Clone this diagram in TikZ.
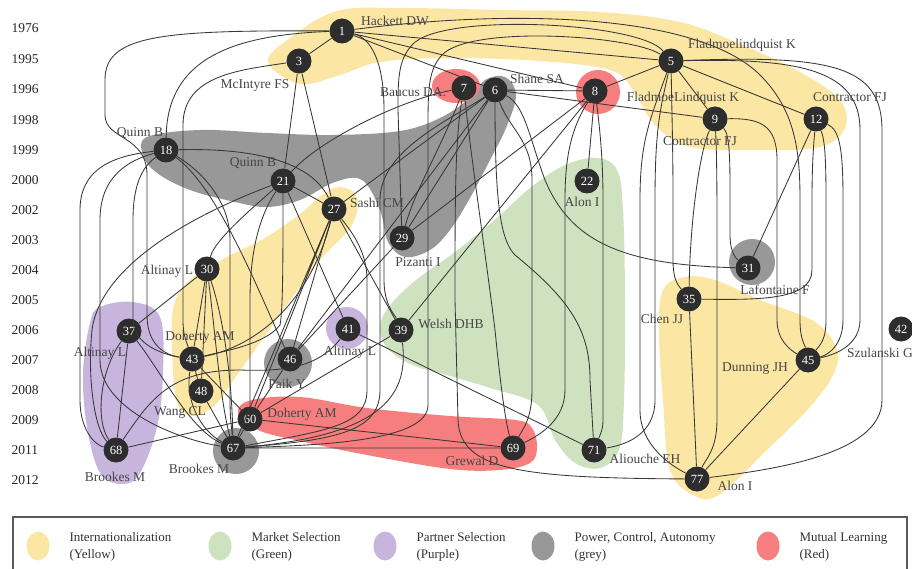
\documentclass[tikz,border=0pt]{standalone}
\usepackage{fontspec}
\setmainfont{Liberation Serif}
\definecolor{intl}{RGB}{251,230,164}
\definecolor{market}{RGB}{207,226,192}
\definecolor{partner}{RGB}{200,181,222}
\definecolor{power}{RGB}{152,152,152}
\definecolor{learning}{RGB}{247,126,126}
\definecolor{dotgray}{RGB}{45,45,45}
\definecolor{linegray}{RGB}{55,55,55}
\definecolor{namegray}{RGB}{70,70,70}
\tikzset{
  author/.style={circle,fill=dotgray,text=white,minimum size=25pt,inner sep=0pt,
    font=\fontsize{12.5}{14}\selectfont},
  authorname/.style={text=namegray,inner sep=1pt,font=\fontsize{13.5}{15}\selectfont},
  year/.style={anchor=west,text=black!85,font=\fontsize{13.5}{15}\selectfont},
  keytext/.style={anchor=west,align=left,text=black!80,font=\fontsize{13}{16.5}\selectfont},
  link/.style={draw=linegray,line width=0.85pt},
  blob/.style={smooth cycle,tension=0.6},
}
\begin{document}
\begin{tikzpicture}[x=1pt,y=-1pt]
\useasboundingbox (0,0) rectangle (912,569);
% themes
\fill[intl] plot[blob] coordinates {(268,62) (290,38) (337,11) (400,8) (500,10) (600,12)
  (680,22) (740,44) (800,72) (840,100) (845,128) (820,147) (760,150) (690,147)
  (655,125) (633,90) (610,70) (540,61) (450,58) (380,62) (340,75) (300,84)};
\fill[intl] plot[blob] coordinates {(340,187) (357,197) (352,225) (322,258) (292,298)
  (262,340) (237,375) (215,405) (192,416) (177,402) (172,350) (174,305) (190,280)
  (225,258) (265,238) (300,214) (322,195)};
\fill[intl] plot[blob] coordinates {(663,290) (685,277) (715,280) (760,300) (815,322)
  (837,350) (833,375) (810,407) (767,450) (720,494) (695,496) (670,470) (663,400) (659,333)};
\fill[market] plot[blob] coordinates {(382,318) (410,285) (455,252) (498,217) (530,188)
  (565,165) (597,158) (617,170) (623,210) (625,300) (624,400) (619,450) (600,468)
  (575,463) (555,440) (538,405) (490,388) (450,376) (410,364) (385,345)};
\fill[partner] plot[blob] coordinates {(100,307) (133,302) (160,317) (163,373) (157,427)
  (140,473) (122,484) (100,473) (87,427) (83,373) (90,323)};
\fill[partner] (347,328) circle (21);
\fill[power] plot[blob] coordinates {(147,137) (200,130) (267,133) (333,135) (400,131)
  (440,118) (470,98) (485,80) (505,77) (516,95) (506,128) (490,160) (470,198)
  (450,230) (430,250) (405,257) (388,242) (380,210) (362,180) (335,182) (300,200)
  (267,207) (235,202) (190,190) (157,173) (143,155)};
\fill[power] (752,262) circle (23);
\fill[power] (288,363) circle (24);
\fill[power] (236,451) circle (23);
\fill[learning] (456,86) ellipse [x radius=24, y radius=17];
\fill[learning] (598,92) circle (22);
\fill[learning] plot[blob] coordinates {(238,412) (252,400) (300,397) (367,408) (450,416)
  (515,420) (532,428) (537,448) (530,463) (500,470) (450,469) (367,455) (300,441) (258,430)};
% years
\foreach \y/\yr in {28/1976,59/1995,89/1996,120/1998,150/1999,180/2000,210/2002,
  240/2003,270/2004,300/2005,330/2006,360/2007,390/2008,420/2009,450/2011,480/2012}
  \node[year] (y\yr) at (8,\y) {\yr};
% authors
\node[author] (n1) at (342,31) {1};
\node[author] (n3) at (299,61) {3};
\node[author] (n5) at (671,61) {5};
\node[author] (n6) at (495,90) {6};
\node[author] (n7) at (464,88) {7};
\node[author] (n8) at (595,91) {8};
\node[author] (n9) at (715,119) {9};
\node[author] (n12) at (816,119) {12};
\node[author] (n18) at (166,150) {18};
\node[author] (n21) at (283,181) {21};
\node[author] (n22) at (587,181) {22};
\node[author] (n27) at (334,209) {27};
\node[author] (n29) at (402,238) {29};
\node[author] (n30) at (207,269) {30};
\node[author] (n31) at (748,268) {31};
\node[author] (n35) at (689,299) {35};
\node[author] (n37) at (129,331) {37};
\node[author] (n39) at (401,330) {39};
\node[author] (n41) at (348,329) {41};
\node[author] (n42) at (901,329) {42};
\node[author] (n43) at (192,359) {43};
\node[author] (n45) at (808,360) {45};
\node[author] (n46) at (290,359) {46};
\node[author] (n48) at (201,391) {48};
\node[author] (n60) at (250,419) {60};
\node[author] (n67) at (233,448) {67};
\node[author] (n68) at (116,450) {68};
\node[author] (n69) at (513,448) {69};
\node[author] (n71) at (594,450) {71};
\node[author] (n77) at (697,479) {77};
% links from the top
\draw[link] (n1) -- (n3) (n1) -- (n5) (n1) -- (n8) (n1) -- (n6);
\draw[link] (n1) .. controls (230,35) and (167,60) .. (n18);
\draw[link] (n1) .. controls (160,30) and (105,35) .. (105,80) -- (105,115)
  .. controls (105,140) and (147,135) .. (147,175) -- (147,315)
  .. controls (147,345) and (165,355) .. (n43);
\draw[link] (n1) .. controls (370,38) and (384,60) .. (384,110) -- (384,280)
  .. controls (384,305) and (395,315) .. (n39);
\draw[link] (n1) .. controls (520,8) and (700,15) .. (760,75)
  .. controls (795,110) and (800,150) .. (800,200) -- (800,320)
  .. controls (800,340) and (805,345) .. (n45);
\draw[link] (n3) .. controls (240,70) and (183,75) .. (183,125) -- (183,320)
  .. controls (183,335) and (186,340) .. (n43);
\draw[link] (n3) -- (n21) (n3) -- (n27);
\draw[link] (n5) -- (n8) (n5) -- (n9) (n5) -- (n12);
\draw[link] (n5) .. controls (640,22) and (440,12) .. (412,45)
  .. controls (398,60) and (398,80) .. (398,110) -- (n29);
\draw[link] (n5) .. controls (630,35) and (470,25) .. (442,55)
  .. controls (428,70) and (428,90) .. (428,130) -- (428,405)
  .. controls (428,440) and (330,445) .. (n67);
\draw[link] (n5) .. controls (650,120) and (640,140) .. (640,200) -- (640,410)
  .. controls (640,445) and (670,465) .. (n77);
\draw[link] (n5) .. controls (660,110) and (655,130) .. (655,200) -- (655,400)
  .. controls (655,435) and (625,445) .. (n71);
\draw[link] (n5) .. controls (672,120) and (673,150) .. (673,200) -- (673,260)
  .. controls (673,280) and (678,285) .. (n35);
\draw[link] (n5) .. controls (800,58) and (860,70) .. (860,130) -- (860,320)
  .. controls (860,345) and (835,355) .. (n45);
\draw[link] (n5) .. controls (830,55) and (882,65) .. (882,130) -- (882,400)
  .. controls (882,455) and (770,470) .. (n77);
% 1996
\draw[link] (n6) -- (n8) (n6) -- (n9) (n6) -- (n29) (n6) -- (n46) (n6) -- (n27);
\draw[link] (n6) .. controls (525,105) and (530,140) .. (545,180)
  .. controls (570,240) and (620,265) .. (n31);
\draw[link] (n6) .. controls (510,130) and (532,140) .. (532,180) -- (532,390)
  .. controls (532,420) and (522,430) .. (n69);
\draw[link] (n6) .. controls (495,200) and (500,240) .. (515,255)
  .. controls (570,300) and (590,330) .. (590,380) -- (n71);
\draw[link] (n7) .. controls (470,150) and (485,250) .. (495,330)
  .. controls (500,380) and (505,420) .. (n69);
\draw[link] (n7) .. controls (440,150) and (415,190) .. (n29);
\draw[link] (n7) .. controls (400,100) and (320,140) .. (n21);
\draw[link] (n7) .. controls (455,140) and (455,200) .. (455,300) -- (458,420)
  .. controls (460,470) and (520,478) .. (n77);
\draw[link] (n8) -- (n22) (n8) -- (n29) (n8) -- (n39);
\draw[link] (n8) .. controls (570,130) and (565,160) .. (565,200) -- (565,390)
  .. controls (565,420) and (540,435) .. (n69);
\draw[link] (n8) .. controls (600,130) and (603,160) .. (603,200) -- (603,420)
  .. controls (603,430) and (600,435) .. (n71);
% 1998
\draw[link] (n9) .. controls (700,150) and (690,220) .. (n35);
\draw[link] (n9) .. controls (730,135) and (730,160) .. (730,200) -- (730,235)
  .. controls (730,255) and (738,260) .. (n31);
\draw[link] (n9) .. controls (717,160) and (717,200) .. (717,250) -- (717,420)
  .. controls (717,450) and (705,460) .. (n77);
\draw[link] (n9) .. controls (760,118) and (777,125) .. (777,160) -- (777,320)
  .. controls (777,340) and (790,350) .. (n45);
\draw[link] (n12) -- (n31);
\draw[link] (n12) .. controls (825,140) and (826,160) .. (826,200) -- (826,320)
  .. controls (826,340) and (820,345) .. (n45);
\draw[link] (n12) .. controls (840,130) and (843,150) .. (843,200) -- (843,320)
  .. controls (843,345) and (828,355) .. (n45);
\draw[link] (n35) .. controls (760,300) and (812,300) .. (812,270) -- (812,200)
  .. controls (812,160) and (814,140) .. (n12);
\draw[link] (n35) -- (n77) (n45) -- (n77);
% 1999 and 2000
\draw[link] (n18) .. controls (250,148) and (310,160) .. (n27);
\draw[link] (n18) .. controls (120,155) and (80,165) .. (80,210) -- (80,400)
  .. controls (80,430) and (95,445) .. (n68);
\draw[link] (n18) .. controls (130,160) and (100,175) .. (100,220) -- (100,360)
  .. controls (100,410) and (180,440) .. (n67);
\draw[link] (n18) .. controls (145,165) and (133,180) .. (133,220) -- (133,320)
  .. controls (133,345) and (165,355) .. (n43);
\draw[link] (n18) .. controls (200,170) and (230,200) .. (230,240) -- (230,400)
  .. controls (230,420) and (232,430) .. (n67);
\draw[link] (n18) .. controls (220,190) and (262,300) .. (n46);
\draw[link] (n21) -- (n27) (n21) -- (n41);
\draw[link] (n21) .. controls (250,210) and (215,240) .. (n30);
\draw[link] (n21) .. controls (180,220) and (100,270) .. (92,330)
  .. controls (87,380) and (95,430) .. (n68);
\draw[link] (n21) .. controls (260,215) and (250,250) .. (250,300) -- (n60);
\draw[link] (n21) .. controls (283,260) and (283,310) .. (280,325)
  .. controls (265,345) and (220,352) .. (n43);
% 2002 to 2006
\draw[link] (n27) -- (n46) (n27) -- (n60) (n27) -- (n67) (n27) -- (n39);
\draw[link] (n43) .. controls (260,345) and (310,300) .. (n27);
\draw[link] (n29) -- (n46);
\draw[link] (n30) -- (n37) (n30) -- (n43) (n30) -- (n48);
\draw[link] (n30) .. controls (215,330) and (220,400) .. (n67);
\draw[link] (n30) .. controls (224,320) and (232,380) .. (n67);
\draw[link] (n37) -- (n68);
\draw[link] (n37) .. controls (100,370) and (95,420) .. (n68);
\draw[link] (n37) .. controls (160,370) and (190,430) .. (n67);
\draw[link] (n41) -- (n71);
\draw[link] (n39) -- (n60);
\draw[link] (n39) .. controls (408,390) and (390,435) .. (n67);
% 2007 to 2011
\draw[link] (n43) -- (n48) (n43) -- (n60) (n48) -- (n67) (n46) -- (n60);
\draw[link] (n43) .. controls (185,400) and (200,430) .. (n67);
\draw[link] (n68) .. controls (150,400) and (170,370) .. (240,370)
  .. controls (290,372) and (320,365) .. (n41);
\draw[link] (n60) -- (n68) (n60) -- (n67) (n60) -- (n69) (n67) -- (n69);
\draw[link] (n67) .. controls (330,430) and (367,425) .. (367,390) -- (367,280)
  .. controls (367,250) and (350,230) .. (n27);
\draw[link] (n67) .. controls (340,440) and (380,430) .. (380,390) -- (380,200)
  .. controls (380,150) and (450,120) .. (n6);
% names
\node[authorname] (lab1) at (395,21) {Hackett DW};
\node[authorname] (lab3) at (255,85) {McIntyre FS};
\node[authorname] (lab7) at (413,92) {Baucus DA.};
\node[authorname] (lab6) at (537,79) {Shane SA};
\node[authorname] (lab8) at (683,98) {FladmoeLindquist K};
\node[authorname] (lab5) at (742,45) {Fladmoelindquist K};
\node[authorname] (lab9) at (700,141) {Contractor FJ};
\node[authorname] (lab12) at (850,97) {Contractor FJ};
\node[authorname] (lab18) at (140,133) {Quinn B};
\node[authorname] (lab21) at (253,163) {Quinn B};
\node[authorname] (lab27) at (377,203) {Sashi CM};
\node[authorname] (lab22) at (582,202) {Alon I};
\node[authorname] (lab29) at (418,262) {Pizanti I};
\node[authorname] (lab31) at (775,290) {Lafontaine F};
\node[authorname] (lab30) at (167,271) {Altinay L};
\node[authorname] (lab35) at (662,319) {Chen JJ};
\node[authorname] (lab39) at (451,324) {Welsh DHB};
\node[authorname] (lab42) at (880,353) {Szulanski G};
\node[authorname] (lab41) at (350,352) {Altinay L};
\node[authorname] (lab37) at (100,353) {Altinay L};
\node[authorname] (lab43) at (200,337) {Doherty AM};
\node[authorname] (lab45) at (755,368) {Dunning JH};
\node[authorname] (lab46) at (287,384) {Paik Y};
\node[authorname] (lab48) at (180,412) {Wang CL};
\node[authorname] (lab60) at (302,414) {Doherty AM};
\node[authorname] (lab69) at (472,461) {Grewal D};
\node[authorname] (lab71) at (645,459) {Aliouche EH};
\node[authorname] (lab77) at (735,486) {Alon I};
\node[authorname] (lab68) at (115,477) {Brookes M};
\node[authorname] (lab67) at (199,469) {Brookes M};
% legend
\draw[line width=1.6pt, black!65] (13,569) |- (907,517) -- (907,569);
\foreach \x/\c/\t/\s in {38/intl/Internationalization/Yellow,
  220/market/Market Selection/Green, 385/partner/Partner Selection/Purple,
  543/power/{Power, Control, Autonomy}/grey, 768/learning/Mutual Learning/Red}{
  \fill[\c] (\x,546) ellipse [x radius=11.5, y radius=14.5];
  \node[keytext] (key\s) at (\x+28,547) {\t\\(\s)};
}
\end{tikzpicture}
\end{document}
